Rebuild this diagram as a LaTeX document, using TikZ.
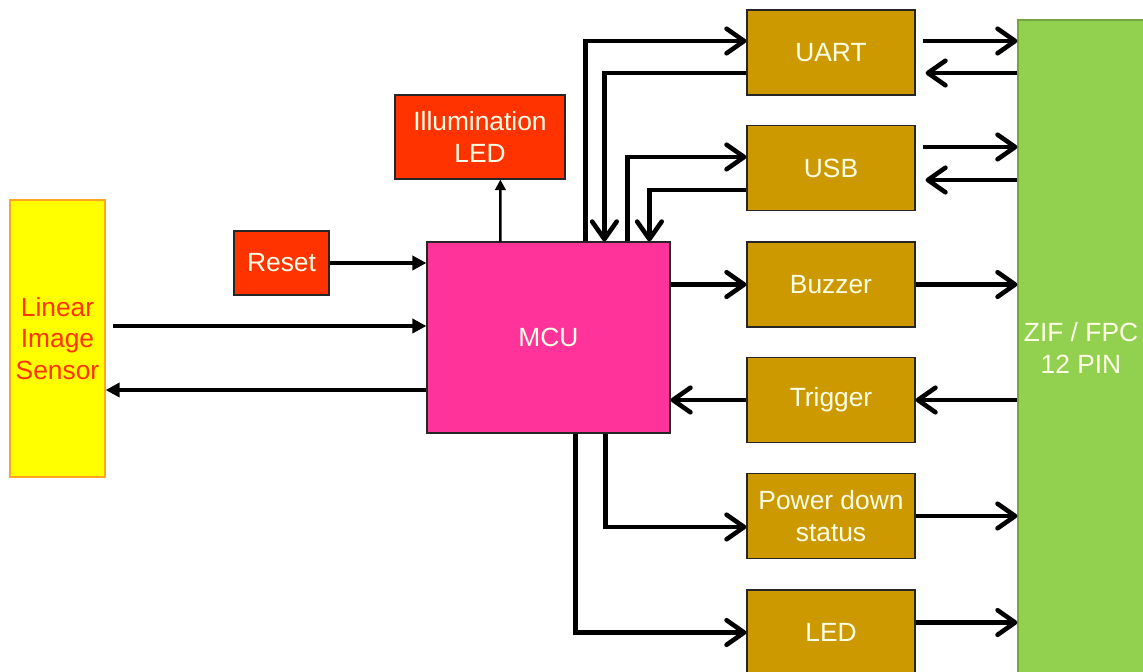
\documentclass[tikz,border=0pt]{standalone}
\usepackage{fontspec}
\setmainfont{Liberation Sans}
\usetikzlibrary{arrows.meta,calc}

\definecolor{sensoryellow}{HTML}{FFFF00}
\definecolor{sensororange}{HTML}{FFA520}
\definecolor{ledred}{HTML}{FF3300}
\definecolor{mcupink}{HTML}{FF3399}
\definecolor{ifbrown}{HTML}{CC9900}
\definecolor{zifgreen}{HTML}{92D050}
\definecolor{labelcream}{HTML}{FFFFE8}

\begin{document}
\begin{tikzpicture}[x=0.02cm, y=-0.02cm, >=Stealth,
    blk/.style={draw=black!85, line width=0.7pt, align=center, inner sep=0pt,
                text=labelcream, font=\fontsize{15}{18}\selectfont},
    ifbox/.style={blk, fill=ifbrown, minimum width=3.36cm, minimum height=1.7cm},
    bus/.style={line width=2.6pt, -{Straight Barb[length=10pt,width=14pt,round]}},
    sig/.style={line width=2.6pt, -{Triangle[length=8pt,width=8pt]}}]
    \useasboundingbox (0,0) rectangle (1143,672);

    % 传感器、复位、照明 LED 与 MCU
    \node[blk, draw=sensororange, fill=sensoryellow, text=ledred,
          minimum width=1.9cm, minimum height=5.54cm] (sensor) at (57.5,338.5)
          {Linear\\Image\\Sensor};
    \node[blk, fill=ledred, minimum width=1.9cm, minimum height=1.28cm] (reset) at (281.5,263) {Reset};
    \node[blk, fill=ledred, minimum width=3.4cm, minimum height=1.68cm] (illum) at (480,137) {Illumination\\LED};
    \node[blk, fill=mcupink, minimum width=4.86cm, minimum height=3.82cm] (mcu) at (548.5,337.5) {MCU};

    % 右侧接口模块
    \node[ifbox] (uart)    at (831,52.5)  {UART};
    \node[ifbox] (usb)     at (831,168)   {USB};
    \node[ifbox] (buzzer)  at (831,284.5) {Buzzer};
    \node[ifbox] (trigger) at (831,400)   {Trigger};
    \node[ifbox] (pwrdown) at (831,516)   {Power down\\status};
    \node[ifbox] (led)     at (831,632.5) {LED};

    % 连接器
    \node[blk, draw=zifgreen!80!black, fill=zifgreen, minimum width=2.52cm, minimum height=13.12cm]
          (zif) at (1081,348) {ZIF / FPC\\12 PIN};

    % 左侧信号
    \draw[sig] (reset.east) -- (mcu.west |- reset.east);
    \draw[sig] ($(sensor.east)+(7,-12.5)$) -- ($(mcu.west)+(0,-11.5)$);
    \draw[sig] ($(mcu.west)+(0,52.5)$) -- ($(sensor.east)+(0,51.5)$);
    \draw[line width=1.4pt, -{Triangle[length=6pt,width=6pt]}]
          ($(mcu.north west)+(74,0)$) -- ($(illum.south west)+(106,0)$);

    % MCU 与 UART / USB
    \draw[bus] ($(mcu.north west)+(159,0)$) |- ($(uart.west)+(0,-11.5)$);
    \draw[bus] ($(uart.west)+(0,20.5)$) -| ($(mcu.north west)+(178,0)$);
    \draw[bus] ($(mcu.north west)+(201,0)$) |- ($(usb.west)+(0,-11)$);
    \draw[bus] ($(usb.west)+(0,22)$) -| ($(mcu.north west)+(223,0)$);

    % MCU 与其余模块
    \draw[bus] (mcu.east |- buzzer.west) -- (buzzer.west);
    \draw[bus] (trigger.west) -- (mcu.east |- trigger.west);
    \draw[bus] ($(mcu.south west)+(179,0)$) |- ($(pwrdown.west)+(0,11)$);
    \draw[bus] ($(mcu.south west)+(149,0)$) |- (led.west);

    % 模块与连接器
    \draw[bus] ($(uart.east)+(7,-11.5)$) -- ($(zif.west |- uart.east)+(0,-11.5)$);
    \draw[bus] ($(zif.west |- uart.east)+(0,20.5)$) -- ($(uart.east)+(10,20.5)$);
    \draw[bus] ($(usb.east)+(7,-21)$) -- ($(zif.west |- usb.east)+(0,-21)$);
    \draw[bus] ($(zif.west |- usb.east)+(0,12)$) -- ($(usb.east)+(10,12)$);
    \draw[bus] (buzzer.east) -- (zif.west |- buzzer.east);
    \draw[bus] (zif.west |- trigger.east) -- (trigger.east);
    \draw[bus] (pwrdown.east) -- (zif.west |- pwrdown.east);
    \draw[bus] ($(led.east)+(0,-10)$) -- ($(zif.west |- led.east)+(0,-10)$);
\end{tikzpicture}
\end{document}
